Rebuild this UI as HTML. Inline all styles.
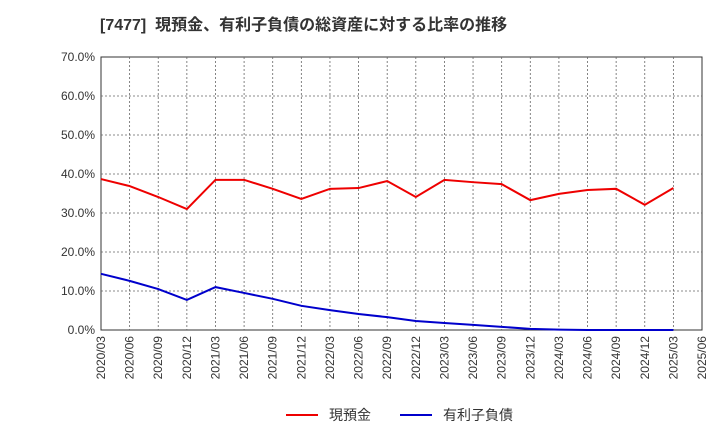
<!DOCTYPE html>
<html><head><meta charset="utf-8">
<style>
body{margin:0;background:#fff;width:720px;height:440px;overflow:hidden;font-family:"Liberation Sans","Noto Sans CJK JP",sans-serif;}
svg text{font-family:"Liberation Sans","Noto Sans CJK JP",sans-serif;}
</style></head>
<body>
<svg id="chart" width="720" height="440">
<text x="100" y="30" font-size="16" font-weight="bold" fill="#333" xml:space="preserve">[7477]  現預金、有利子負債の総資産に対する比率の推移</text>
<rect x="101" y="57" width="601" height="273" fill="#fff" stroke="#333"/>
<g id="grid"></g><g id="yaxis"></g><g id="xaxis"></g><g id="series"></g>
<g>
<line x1="286" y1="415" x2="318" y2="415" stroke="#e00" stroke-width="2"/>
<text x="329" y="420" font-size="14" fill="#333">現預金</text>
<line x1="400" y1="415" x2="432" y2="415" stroke="#00c" stroke-width="2"/>
<text x="443" y="420" font-size="14" fill="#333">有利子負債</text>
</g>
</svg>
<script>
const categories=["2020/03","2020/06","2020/09","2020/12","2021/03","2021/06","2021/09","2021/12","2022/03","2022/06","2022/09","2022/12","2023/03","2023/06","2023/09","2023/12","2024/03","2024/06","2024/09","2024/12","2025/03","2025/06"];
const cashValues=[38.7,36.9,34.1,31.0,38.5,38.5,36.2,33.6,36.2,36.4,38.2,34.1,38.5,37.9,37.4,33.3,34.9,35.9,36.2,32.1,36.4];
const debtValues=[14.4,12.6,10.5,7.7,11.0,9.5,8.0,6.2,5.1,4.1,3.3,2.3,1.8,1.3,0.8,0.3,0.1,0,0,0,0];
const yTicks=[0,10,20,30,40,50,60,70];
const yTickLabels=["0.0%","10.0%","20.0%","30.0%","40.0%","50.0%","60.0%","70.0%"];

const NS="http://www.w3.org/2000/svg";
const L=101,R=702,T=57,B=330,YMAX=70;
const xs=i=>L+i*(R-L)/(categories.length-1);
const ys=v=>B-v/YMAX*(B-T);
function mk(tag,attrs,parent){const e=document.createElementNS(NS,tag);for(const k in attrs)e.setAttribute(k,attrs[k]);document.getElementById(parent).appendChild(e);return e;}

yTicks.forEach((v,i)=>{
  const y=ys(v);
  if(v>0&&v<YMAX){const g=mk("line",{x1:L,x2:R,y1:y,y2:y,stroke:"#666","stroke-width":0.8,"stroke-dasharray":"2,2"},"grid");
  
  }
  const t=mk("text",{x:L-6,y:y+4,"text-anchor":"end","font-size":"12",fill:"#333"},"yaxis");
  t.textContent=yTickLabels[i];
  
  
});
categories.forEach((c,i)=>{
  const x=xs(i);
  if(i>0&&i<categories.length-1){const g=mk("line",{x1:x,x2:x,y1:T,y2:B,stroke:"#666","stroke-width":0.8,"stroke-dasharray":"2,2"},"grid");
  
  }
  const t=mk("text",{x:x+4,y:B+6,"text-anchor":"end","font-size":"12",fill:"#333",transform:`rotate(-90 ${x+4} ${B+6})`},"xaxis");
  t.textContent=c;
  
  
});
function line(vals,color,name){
  const p=mk("polyline",{points:vals.map((v,i)=>xs(i)+","+ys(v)).join(" "),fill:"none",stroke:color,"stroke-width":2},"series");
  
  
}
line(cashValues,"#e00","cash-line");
line(debtValues,"#00c","debt-line");
</script>
</body></html>
